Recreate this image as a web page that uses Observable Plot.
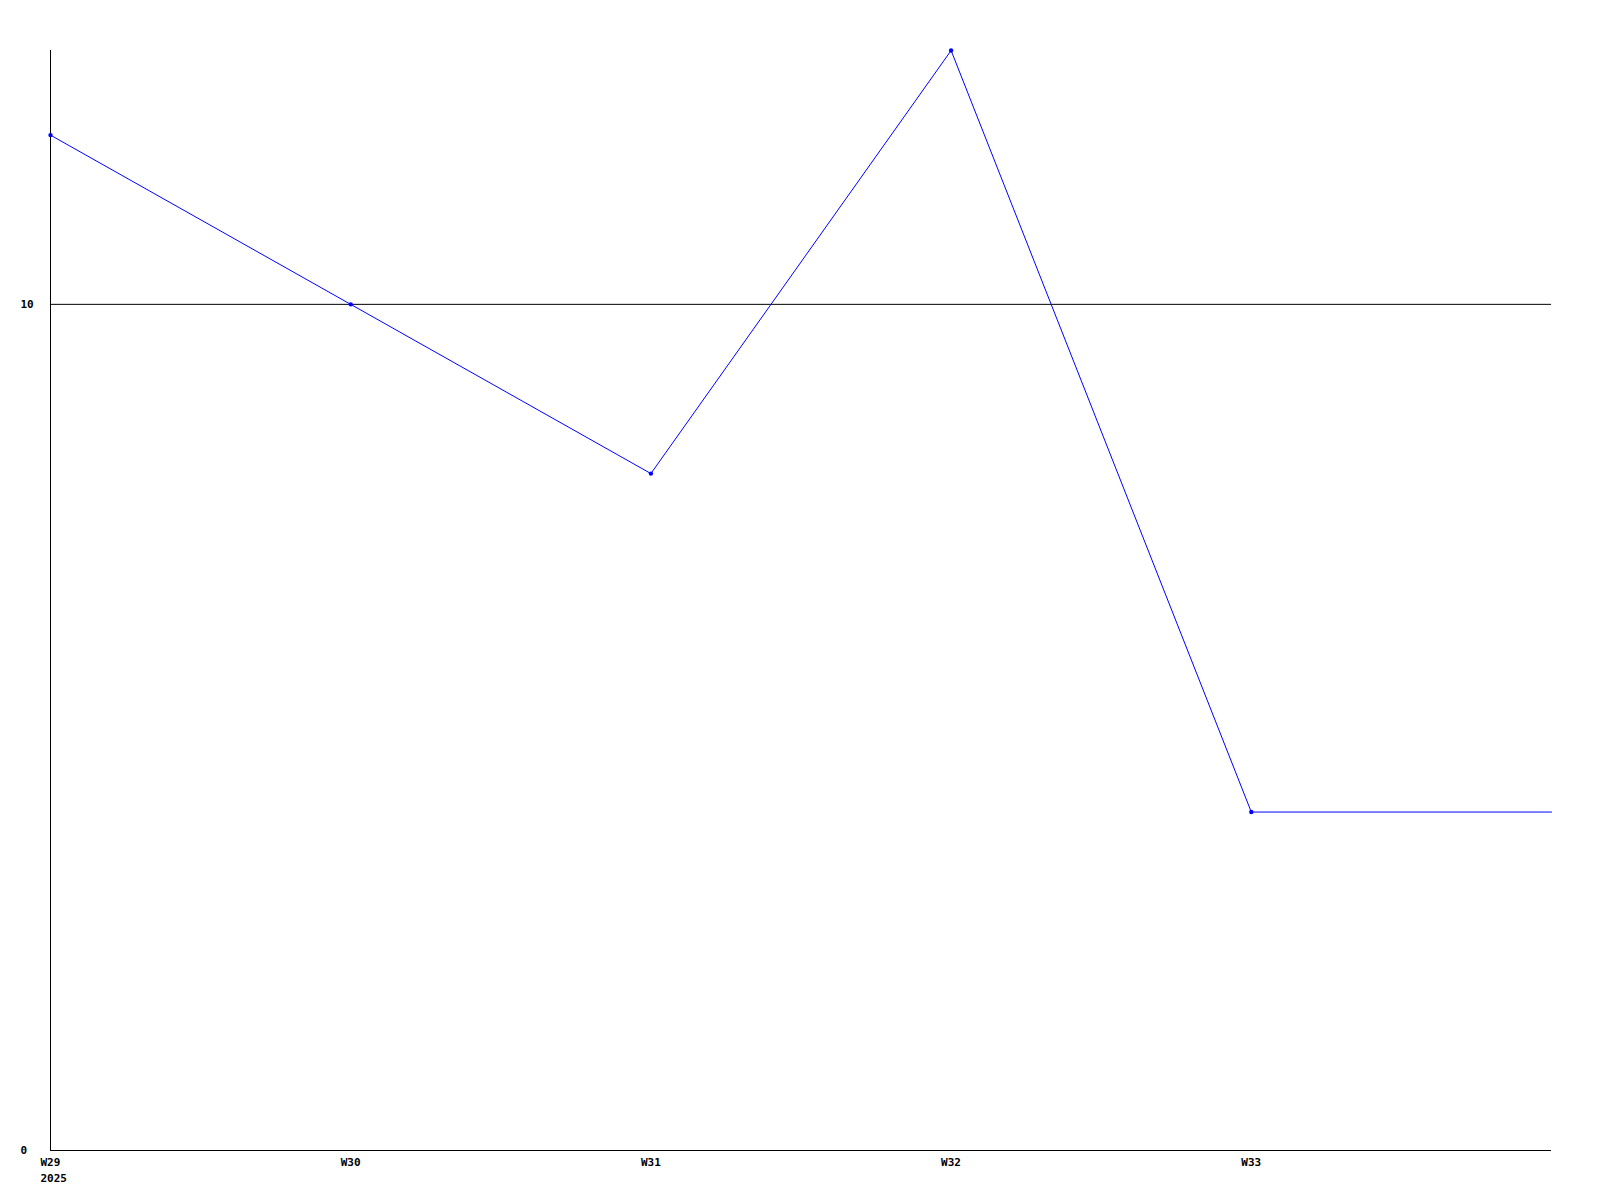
<!DOCTYPE html>
<html>
<head>
<meta charset="utf-8">
<script src="https://cdn.jsdelivr.net/npm/d3@7"></script>
<script src="https://cdn.jsdelivr.net/npm/@observablehq/plot@0.6"></script>
<style>
  html, body { margin: 0; padding: 0; background: #fff; }
  #chart svg { display: block; }
</style>
</head>
<body>
<div id="chart"></div>
<script>
// Data
const weeks = [29, 30, 31, 32, 33, 34];
const values = [12, 10, 8, 13, 4, 4];
const markedWeeks = [29, 30, 31, 32, 33];
const xTicks = [29, 30, 31, 32, 33];
const xTickLabels = ["W29\n2025", "W30", "W31", "W32", "W33"];
const yTicks = [0, 10];
const yTickLabels = ["0", "10"];

const data = weeks.map((w, i) => ({week: w, value: values[i]}));
const marked = data.filter(d => markedWeeks.includes(d.week));
const xLab = xTicks.map((w, i) => ({week: w, label: xTickLabels[i]}));
const yLab = yTicks.map((v, i) => ({value: v, label: yTickLabels[i]}));

const font = "'DejaVu Sans Mono', monospace";

const chart = Plot.plot({
  width: 1600,
  height: 1200,
  marginLeft: 50,
  marginRight: 49,
  marginTop: 50,
  marginBottom: 50,
  style: {fontFamily: font, fontSize: "11px", fontWeight: "bold", background: "#fff"},
  x: {domain: [29, 34], axis: null},
  y: {domain: [0, 13], axis: null},
  marks: [
    Plot.ruleY([10], {stroke: "#000", strokeWidth: 1}),
    Plot.ruleY([0], {stroke: "#000", strokeWidth: 1}),
    Plot.ruleX([29], {stroke: "#000", strokeWidth: 1}),
    Plot.line(data, {x: "week", y: "value", stroke: "#0000ff", strokeWidth: 1}),
    Plot.dot(marked, {x: "week", y: "value", r: 2.2, fill: "#0000ff", stroke: null}),
    Plot.text(xLab, {x: "week", y: () => 0, text: "label", dx: -10, dy: 5, textAnchor: "start", lineAnchor: "top", lineHeight: 1.4, fill: "#000", fontWeight: "bold"}),
    Plot.text(yLab, {x: () => 29, y: "value", text: "label", dx: -30, textAnchor: "start", fill: "#000", fontWeight: "bold"})
  ]
});

document.getElementById("chart").appendChild(chart);
</script>
</body>
</html>
